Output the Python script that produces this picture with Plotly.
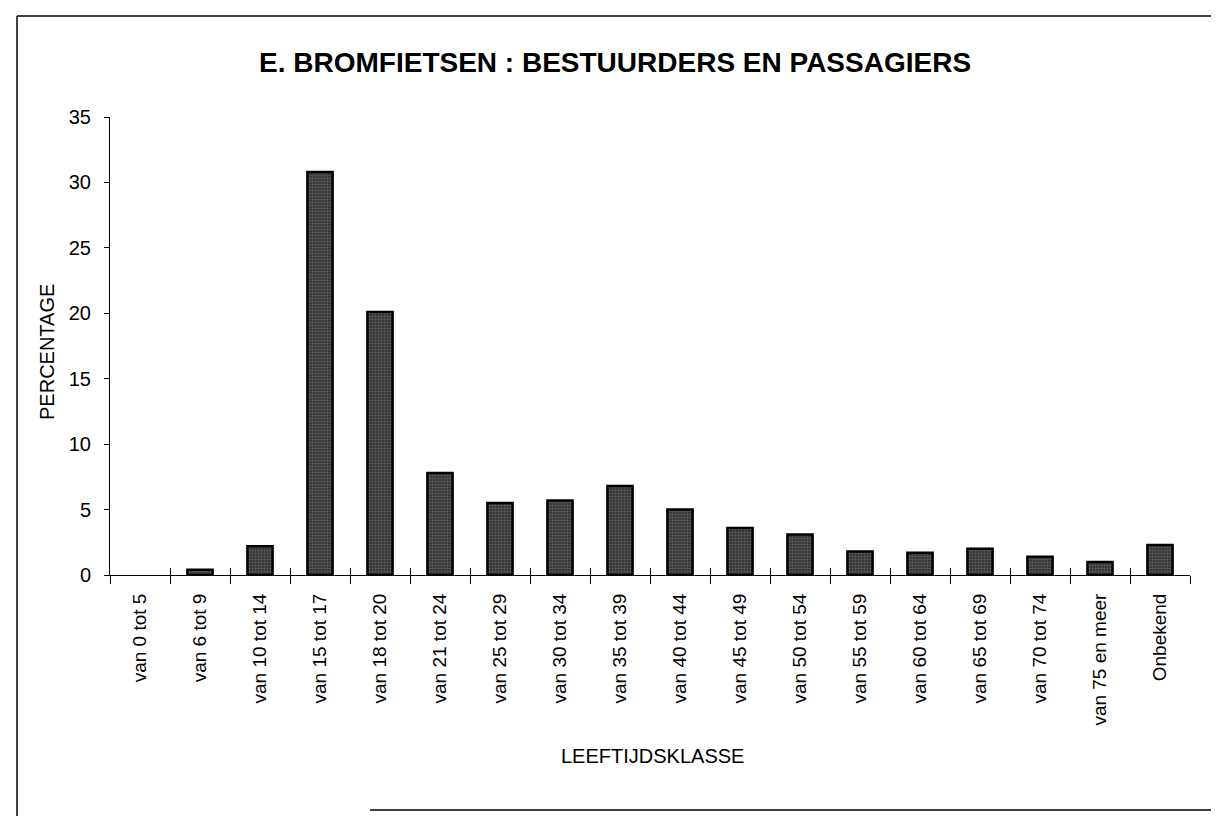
import plotly.graph_objects as go

categories = ["van 0 tot 5", "van 6 tot 9", "van 10 tot 14", "van 15 tot 17", "van 18 tot 20",
              "van 21 tot 24", "van 25 tot 29", "van 30 tot 34", "van 35 tot 39", "van 40 tot 44",
              "van 45 tot 49", "van 50 tot 54", "van 55 tot 59", "van 60 tot 64", "van 65 tot 69",
              "van 70 tot 74", "van 75 en meer", "Onbekend"]
percentages = [0.0, 0.4, 2.2, 30.8, 20.1, 7.8, 5.5, 5.7, 6.8, 5.0, 3.6, 3.1, 1.8, 1.7, 2.0, 1.4, 1.0, 2.3]
y_ticks = [0, 5, 10, 15, 20, 25, 30, 35]

FONT = "Liberation Sans, Arial, sans-serif"

line_widths = [0 if v == 0 else 2.5 for v in percentages]

fig = go.Figure()
fig.add_trace(go.Bar(
    x=categories, y=percentages,
    width=0.42,
    marker=dict(color="#444444", line=dict(color="black", width=line_widths),
                pattern=dict(shape=".", fgcolor="#8a8a8a", bgcolor="#363636", size=3, solidity=0.4)),
    showlegend=False,
))
# helper trace so a second x axis can draw the upper half of the crossing ticks
fig.add_trace(go.Scatter(x=categories, y=[None] * len(categories), xaxis="x2", yaxis="y",
                         showlegend=False, hoverinfo="skip"))

fig.update_layout(
    width=1219, height=816,
    paper_bgcolor="white", plot_bgcolor="white",
    margin=dict(l=102, r=37, t=109, b=249),
    font=dict(family=FONT, color="black", size=20),
    title=dict(text="<b>E. BROMFIETSEN : BESTUURDERS EN PASSAGIERS</b>",
               xref="container", x=0.498, xanchor="center",
               yref="container", y=0.934, yanchor="middle",
               font=dict(family=FONT, size=28, color="black")),
    xaxis=dict(type="category", range=[-0.5, 17.5], showline=True, linecolor="black", linewidth=1,
               ticks="outside", ticklen=8, tickcolor="black", tickson="boundaries",
               tickangle=-90, tickfont=dict(size=19), showgrid=False, ticklabelstandoff=10),
    xaxis2=dict(type="category", range=[-0.5, 17.5], overlaying="x", side="bottom",
                ticks="inside", ticklen=7, tickcolor="black", tickson="boundaries",
                showticklabels=False, showline=False, showgrid=False, matches="x"),
    yaxis=dict(range=[0, 35], tickvals=y_ticks, showline=True, linecolor="black", linewidth=1,
               ticks="outside", ticklen=5, tickcolor="black", showgrid=False, zeroline=False,
               tickfont=dict(size=20), ticklabelstandoff=9),
    bargap=0.58,
)

fig.add_annotation(text="LEEFTIJDSKLASSE", xref="paper", yref="paper", x=0.502, y=-0.395,
                   xanchor="center", yanchor="middle", showarrow=False, font=dict(size=20))
fig.add_annotation(text="PERCENTAGE", xref="paper", yref="paper", x=-0.0583, y=0.487,
                   xanchor="center", yanchor="middle", textangle=-90, showarrow=False,
                   font=dict(size=20))

# outer frame of the chart
frame = dict(type="line", xref="paper", yref="paper", line=dict(color="black", width=1.5))
fig.add_shape(**frame, x0=-0.0861, y0=-0.53, x1=-0.0861, y1=1.2205)
fig.add_shape(**frame, x0=-0.0861, y0=1.2205, x1=1.0204, y1=1.2205)
fig.add_shape(**frame, x0=1.0204, y0=1.2205, x1=1.0204, y1=-0.513)
fig.add_shape(**frame, x0=0.2407, y0=-0.513, x1=1.0204, y1=-0.513)

fig.write_html("out.html")
